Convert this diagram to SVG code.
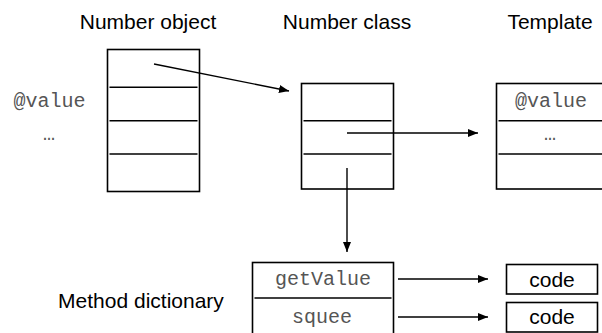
<svg xmlns="http://www.w3.org/2000/svg" width="602" height="333" viewBox="0 0 602 333">
  <style>
    .box { fill: #fff; stroke: #000; stroke-width: 1.6; }
    .div { stroke: #000; stroke-width: 1.6; }
    .title { font-family: "Liberation Sans", Arial, sans-serif; font-size: 21px; fill: #000; }
    .mono { font-family: "Liberation Mono", "Courier New", monospace; font-size: 20px; fill: #555; }
    .edge { stroke: #000; stroke-width: 1.4; fill: none; marker-end: url(#head); }
  </style>
  <defs>
    <marker id="head" viewBox="0 0 10 8" refX="10" refY="4" markerWidth="10" markerHeight="8" markerUnits="userSpaceOnUse" orient="auto">
      <path d="M0,0 L10,4 L0,8 Z" fill="#000"/>
    </marker>
  </defs>
  <rect width="602" height="333" fill="#fff"/>

  <g id="number-object">
    <text class="title" x="148" y="29" text-anchor="middle">Number object</text>
    <rect class="box" x="107.5" y="49.5" width="92" height="142"/>
    <line class="div" x1="109.5" y1="87.3" x2="197.5" y2="87.3"/>
    <line class="div" x1="109.5" y1="120.7" x2="197.5" y2="120.7"/>
    <line class="div" x1="109.5" y1="154" x2="197.5" y2="154"/>
    <text class="mono" x="49.5" y="107" text-anchor="middle">@value</text>
    <text class="mono" x="49" y="140" text-anchor="middle">…</text>
  </g>

  <g id="number-class">
    <text class="title" x="347" y="29" text-anchor="middle">Number class</text>
    <rect class="box" x="301.5" y="83.5" width="92" height="105.5"/>
    <line class="div" x1="303.5" y1="120.7" x2="391.5" y2="120.7"/>
    <line class="div" x1="303.5" y1="154" x2="391.5" y2="154"/>
  </g>

  <g id="template">
    <text class="title" x="550" y="29" text-anchor="middle">Template</text>
    <rect class="box" x="496.5" y="83.5" width="110" height="105.5"/>
    <line class="div" x1="498.5" y1="120.7" x2="604" y2="120.7"/>
    <line class="div" x1="498.5" y1="154" x2="604" y2="154"/>
    <text class="mono" x="551" y="107" text-anchor="middle">@value</text>
    <text class="mono" x="550" y="140" text-anchor="middle">…</text>
  </g>

  <g id="method-dictionary">
    <text class="title" x="141" y="308" text-anchor="middle">Method dictionary</text>
    <rect class="box" x="252.5" y="262.5" width="141" height="80"/>
    <line class="div" x1="254.5" y1="298" x2="391.5" y2="298"/>
    <text class="mono" x="323" y="285" text-anchor="middle">getValue</text>
    <text class="mono" x="322" y="323" text-anchor="middle">squee</text>
  </g>

  <g id="code-getvalue">
    <rect class="box" x="506.5" y="264.5" width="91" height="29.5"/>
    <text class="title" x="552" y="287" text-anchor="middle">code</text>
  </g>

  <g id="code-squee">
    <rect class="box" x="506.5" y="302.5" width="91" height="29.5"/>
    <text class="title" x="552" y="324" text-anchor="middle">code</text>
  </g>

  <g id="connectors">
    <line class="edge" x1="154" y1="64" x2="289" y2="91"/>
    <line class="edge" x1="347" y1="133" x2="478" y2="133"/>
    <line class="edge" x1="347" y1="168" x2="347" y2="252"/>
    <line class="edge" x1="398" y1="279" x2="488" y2="279"/>
    <line class="edge" x1="398" y1="317" x2="488" y2="317"/>
  </g>
</svg>
